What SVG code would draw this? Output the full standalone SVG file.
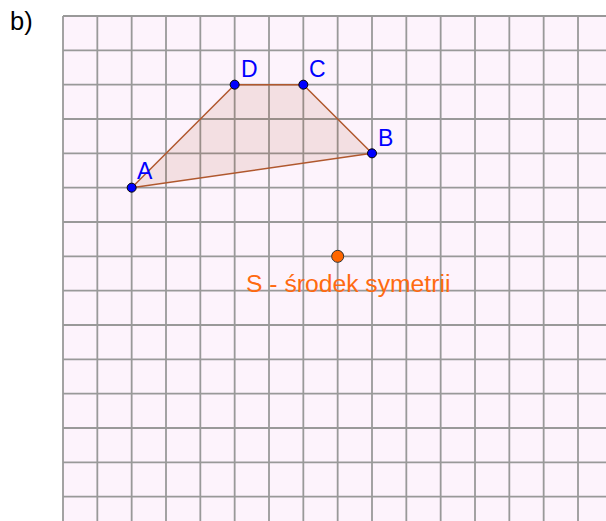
<svg xmlns="http://www.w3.org/2000/svg" width="606" height="521" viewBox="0 0 606 521">
<style>
.grid line{stroke:#999;stroke-width:1.8}
.lbl{font-family:"Liberation Sans",Arial,sans-serif;fill:#0000ff;font-size:23px}
.pt{fill:#0000ff;stroke:#000;stroke-width:1}
</style>
<rect x="0" y="0" width="606" height="521" fill="#fff"/>
<text x="10" y="30" font-family="Liberation Sans, Arial, sans-serif" font-size="25.5" fill="#000">b)</text>
<rect x="63" y="16" width="543" height="505" fill="#fdf3fc"/>
<g class="grid">
<line x1="63" y1="16" x2="63" y2="521"/>
<line x1="97.33" y1="16" x2="97.33" y2="521"/>
<line x1="131.67" y1="16" x2="131.67" y2="521"/>
<line x1="166" y1="16" x2="166" y2="521"/>
<line x1="200.33" y1="16" x2="200.33" y2="521"/>
<line x1="234.67" y1="16" x2="234.67" y2="521"/>
<line x1="269" y1="16" x2="269" y2="521"/>
<line x1="303.33" y1="16" x2="303.33" y2="521"/>
<line x1="337.67" y1="16" x2="337.67" y2="521"/>
<line x1="372" y1="16" x2="372" y2="521"/>
<line x1="406.33" y1="16" x2="406.33" y2="521"/>
<line x1="440.67" y1="16" x2="440.67" y2="521"/>
<line x1="475" y1="16" x2="475" y2="521"/>
<line x1="509.33" y1="16" x2="509.33" y2="521"/>
<line x1="543.67" y1="16" x2="543.67" y2="521"/>
<line x1="578" y1="16" x2="578" y2="521"/>
<line x1="63" y1="16" x2="606" y2="16"/>
<line x1="63" y1="50.33" x2="606" y2="50.33"/>
<line x1="63" y1="84.67" x2="606" y2="84.67"/>
<line x1="63" y1="119" x2="606" y2="119"/>
<line x1="63" y1="153.33" x2="606" y2="153.33"/>
<line x1="63" y1="187.67" x2="606" y2="187.67"/>
<line x1="63" y1="222" x2="606" y2="222"/>
<line x1="63" y1="256.33" x2="606" y2="256.33"/>
<line x1="63" y1="290.67" x2="606" y2="290.67"/>
<line x1="63" y1="325" x2="606" y2="325"/>
<line x1="63" y1="359.33" x2="606" y2="359.33"/>
<line x1="63" y1="393.67" x2="606" y2="393.67"/>
<line x1="63" y1="428" x2="606" y2="428"/>
<line x1="63" y1="462.33" x2="606" y2="462.33"/>
<line x1="63" y1="496.67" x2="606" y2="496.67"/>
</g>
<g id="connectors">
<polygon points="131.67,187.67 372,153.33 303.33,84.67 234.67,84.67" fill="#993300" fill-opacity="0.1" stroke="#b0582e" stroke-width="1.5" stroke-linejoin="round"/>
</g>
<g id="A"><circle class="pt" cx="131.67" cy="187.67" r="4.5"/><text class="lbl" x="137" y="178.5">A</text></g>
<g id="B"><circle class="pt" cx="372" cy="153.33" r="4.5"/><text class="lbl" x="378" y="145.5">B</text></g>
<g id="C"><circle class="pt" cx="303.33" cy="84.67" r="4.5"/><text class="lbl" x="309" y="77">C</text></g>
<g id="D"><circle class="pt" cx="234.67" cy="84.67" r="4.5"/><text class="lbl" x="241" y="77">D</text></g>
<g id="S"><circle cx="337.67" cy="256.33" r="6" fill="#ff6600" stroke="#333" stroke-width="1"/><text x="246" y="291.5" font-family="Liberation Sans, Arial, sans-serif" font-size="24.7" fill="#ff6a10">S - środek symetrii</text></g>
</svg>
